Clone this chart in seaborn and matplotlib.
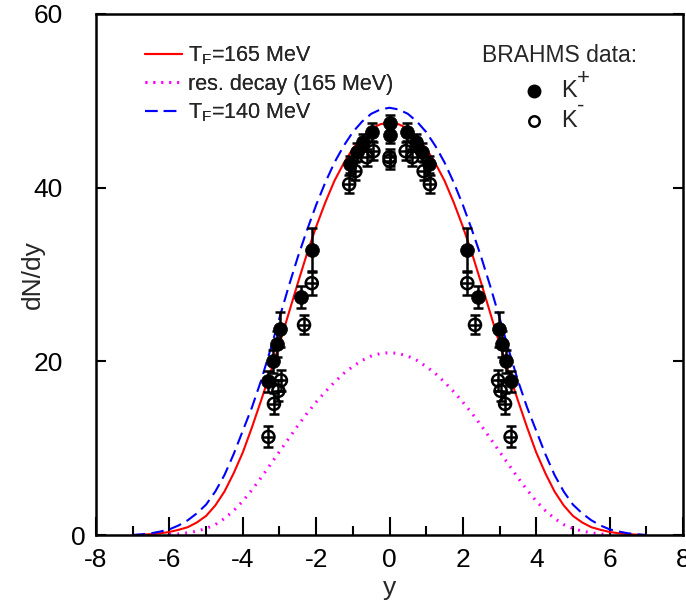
import numpy as np
import matplotlib
matplotlib.use("Agg")
import matplotlib.pyplot as plt
import matplotlib.transforms as mtransforms
from matplotlib.lines import Line2D
import seaborn as sns

# theory curves
y_grid = [-7.0, -6.75, -6.5, -6.25, -6.0, -5.75, -5.5, -5.25, -5.0, -4.75, -4.5, -4.25,
          -4.0, -3.75, -3.5, -3.25, -3.0, -2.75, -2.5, -2.25, -2.0, -1.75, -1.5, -1.25,
          -1.0, -0.75, -0.5, -0.25, 0.0, 0.25, 0.5, 0.75, 1.0, 1.25, 1.5, 1.75,
          2.0, 2.25, 2.5, 2.75, 3.0, 3.25, 3.5, 3.75, 4.0, 4.25, 4.5, 4.75,
          5.0, 5.25, 5.5, 5.75, 6.0, 6.25, 6.5, 6.75, 7.0]
dndy_165 = [0.0, 0.04, 0.1, 0.2, 0.35, 0.6, 0.9, 1.45, 2.2, 3.4, 5.0, 7.1,
            9.5, 12.4, 15.5, 18.7, 22.0, 25.5, 29.0, 32.4, 35.5, 38.3, 40.8, 42.8,
            44.5, 45.8, 46.8, 47.3, 47.5, 47.3, 46.8, 45.8, 44.5, 42.8, 40.8, 38.3,
            35.5, 32.4, 29.0, 25.5, 22.0, 18.7, 15.5, 12.4, 9.5, 7.1, 5.0, 3.4,
            2.2, 1.45, 0.9, 0.6, 0.35, 0.2, 0.1, 0.04, 0.0]
dndy_140 = [0.0, 0.08, 0.2, 0.4, 0.65, 1.1, 1.7, 2.5, 3.5, 5.0, 6.9, 9.3,
            12.0, 14.7, 17.8, 21.3, 25.0, 28.6, 32.0, 35.1, 38.0, 40.6, 42.9, 44.8,
            46.4, 47.6, 48.5, 49.0, 49.2, 49.0, 48.5, 47.6, 46.4, 44.8, 42.9, 40.6,
            38.0, 35.1, 32.0, 28.6, 25.0, 21.3, 17.8, 14.7, 12.0, 9.3, 6.9, 5.0,
            3.5, 2.5, 1.7, 1.1, 0.65, 0.4, 0.2, 0.08, 0.0]
y_res = [-6.0, -5.75, -5.5, -5.25, -5.0, -4.75, -4.5, -4.25, -4.0, -3.75, -3.5, -3.25,
         -3.0, -2.75, -2.5, -2.25, -2.0, -1.75, -1.5, -1.25, -1.0, -0.75, -0.5, -0.25,
         0.0, 0.25, 0.5, 0.75, 1.0, 1.25, 1.5, 1.75, 2.0, 2.25, 2.5, 2.75,
         3.0, 3.25, 3.5, 3.75, 4.0, 4.25, 4.5, 4.75, 5.0, 5.25, 5.5, 5.75, 6.0]
dndy_res = [0.05, 0.12, 0.25, 0.45, 0.75, 1.2, 1.9, 2.8, 3.9, 5.2, 6.6, 8.1,
            9.6, 11.1, 12.6, 14.0, 15.3, 16.5, 17.6, 18.6, 19.4, 20.1, 20.6, 20.9,
            21.0, 20.9, 20.6, 20.1, 19.4, 18.6, 17.6, 16.5, 15.3, 14.0, 12.6, 11.1,
            9.6, 8.1, 6.6, 5.2, 3.9, 2.8, 1.9, 1.2, 0.75, 0.45, 0.25, 0.12, 0.05]

# BRAHMS data (measured + reflected)
kp_y = [-3.30, -3.18, -3.07, -2.98, -2.42, -2.12, -1.08, -0.89, -0.71, -0.49, 0.0,
        0.0, 0.49, 0.71, 0.89, 1.08, 2.12, 2.42, 2.98, 3.07, 3.18, 3.30]
kp_v = [17.7, 20.0, 22.0, 23.7, 27.4, 32.8, 42.7, 44.1, 45.2, 46.4, 47.4,
        46.1, 46.4, 45.2, 44.1, 42.7, 32.8, 27.4, 23.7, 22.0, 20.0, 17.7]
kp_err = [1.2, 1.3, 1.5, 2.0, 1.3, 2.5, 1.0, 1.0, 1.0, 1.0, 1.0,
          1.0, 1.0, 1.0, 1.0, 1.0, 2.5, 1.3, 2.0, 1.5, 1.3, 1.2]
km_y = [-3.30, -3.15, -3.03, -2.96, -2.33, -2.12, -1.10, -0.93, -0.62, -0.44, 0.0,
        0.0, 0.44, 0.62, 0.93, 1.10, 2.12, 2.33, 2.96, 3.03, 3.15, 3.30]
km_v = [11.3, 15.1, 16.6, 17.8, 24.2, 29.0, 40.4, 41.9, 43.5, 44.2, 43.5,
        43.1, 44.2, 43.5, 41.9, 40.4, 29.0, 24.2, 17.8, 16.6, 15.1, 11.3]
km_err = [1.2, 1.2, 1.2, 1.2, 1.1, 1.4, 1.0, 1.0, 1.0, 1.0, 1.0,
          1.0, 1.0, 1.0, 1.0, 1.0, 1.4, 1.1, 1.2, 1.2, 1.2, 1.2]

sns.set_style("ticks")
plt.rcParams['font.family'] = ['Liberation Sans', 'DejaVu Sans']
plt.rcParams['mathtext.fontset'] = 'custom'
plt.rcParams['mathtext.rm'] = 'Liberation Sans'
plt.rcParams['mathtext.it'] = 'Liberation Sans'
plt.rcParams['axes.unicode_minus'] = False

dotted = (0, (0.6, 2.0))
dashed = (0, (6, 3))

fig = plt.figure(figsize=(6.86, 6.07), dpi=100)
ax = fig.add_axes([0.14, 0.1186, 0.8556, 0.8584])

sns.lineplot(x=y_grid, y=dndy_165, ax=ax, color='red', lw=1.5, sort=False)
sns.lineplot(x=y_res, y=dndy_res, ax=ax, color='magenta', lw=2.2, sort=False,
             linestyle=dotted)
sns.lineplot(x=y_grid, y=dndy_140, ax=ax, color='blue', lw=1.5, sort=False,
             linestyle=dashed)

ax.errorbar(km_y, km_v, yerr=km_err, fmt='none', ecolor='black', elinewidth=1.8,
            capsize=3.8, capthick=1.8, zorder=4)
ax.errorbar(kp_y, kp_v, yerr=kp_err, fmt='none', ecolor='black', elinewidth=1.8,
            capsize=3.8, capthick=1.8, zorder=4)
sns.scatterplot(x=km_y, y=km_v, ax=ax, marker='o', s=75, facecolor='none',
                edgecolor='black', linewidth=1.8, zorder=5)
sns.scatterplot(x=km_y, y=km_v, ax=ax, marker='_', s=75, color='black',
                linewidth=1.8, zorder=5)
sns.scatterplot(x=kp_y, y=kp_v, ax=ax, marker='o', s=100, color='black',
                edgecolor='black', linewidth=0.5, zorder=6)

ax.set_xlim(-8, 8)
ax.set_ylim(0, 60)
ax.set_xticks(np.arange(-8, 9, 2))
ax.set_xticks(np.arange(-7, 8, 2), minor=True)
ax.set_yticks([0, 20, 40, 60])
ax.tick_params(axis='both', which='both', direction='in', width=1.5, labelsize=19,
               right=True, colors='black')
ax.tick_params(axis='x', which='major', length=13, pad=9)
ax.tick_params(axis='x', which='minor', length=6.5)
ax.tick_params(axis='y', which='major', length=7, pad=24)
# the "0" label sits closer to the axis in the original
zero_lbl = ax.get_yticklabels()[0]
zero_lbl.set_transform(zero_lbl.get_transform() +
                       mtransforms.ScaledTranslation(0.23, 0, fig.dpi_scale_trans))
for s in ax.spines.values():
    s.set_linewidth(1.8)
    s.set_color('black')
ax.set_xlabel('y', fontsize=19, labelpad=3)
ax.set_ylabel('dN/dy', fontsize=19, labelpad=-8)

line_handles = [
    Line2D([], [], color='red', lw=1.5),
    Line2D([], [], color='magenta', lw=2.2, linestyle=dotted),
    Line2D([], [], color='blue', lw=1.5, linestyle=dashed),
]
leg1 = ax.legend(line_handles,
                 [r'T$_\mathrm{F}$=165 MeV', 'res. decay (165 MeV)', r'T$_\mathrm{F}$=140 MeV'],
                 loc='upper left', bbox_to_anchor=(0.05, 0.979), frameon=False,
                 fontsize=15.5, handlelength=1.75, handletextpad=0.25, labelspacing=0.32)
ax.add_artist(leg1)

# data legend, placed by hand
ax.text(0.79, 0.921, 'BRAHMS data:', transform=ax.transAxes, fontsize=16.5,
        ha='center', va='center')
ax.plot([0.746], [0.852], transform=ax.transAxes, marker='o', ms=9, color='black',
        ls='none', clip_on=False)
ax.plot([0.746], [0.795], transform=ax.transAxes, marker='o', ms=7.5, mfc='none',
        mec='black', mew=1.8, ls='none', clip_on=False)
ax.text(0.792, 0.852, 'K', transform=ax.transAxes, fontsize=17, ha='left', va='center')
ax.text(0.792, 0.795, 'K', transform=ax.transAxes, fontsize=17, ha='left', va='center')
ax.text(0.831, 0.877, '+', transform=ax.transAxes, fontsize=16, ha='center', va='center')
ax.text(0.825, 0.823, '-', transform=ax.transAxes, fontsize=16, ha='center', va='center')

plt.savefig('out.png', dpi=100)
